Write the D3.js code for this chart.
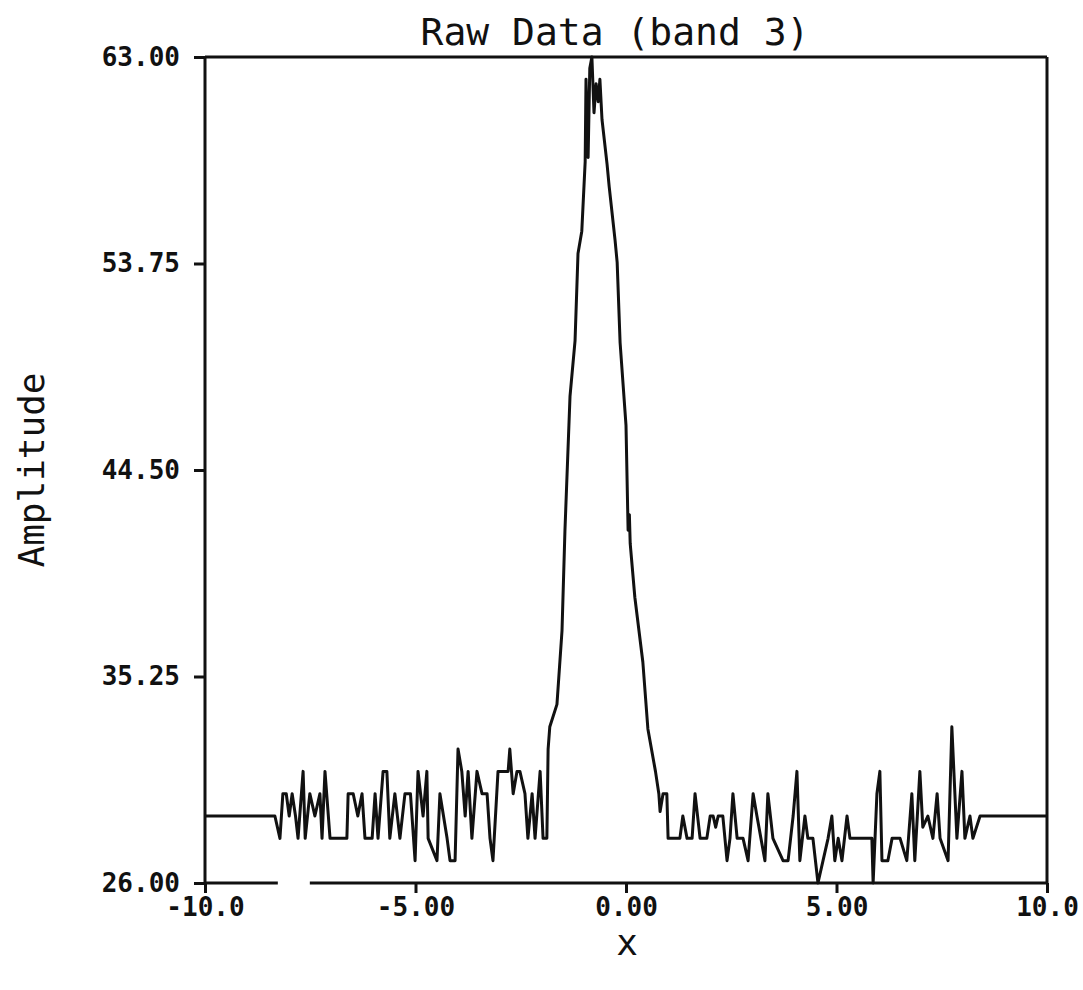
<!DOCTYPE html>
<html>
<head>
<meta charset="utf-8">
<script src="https://cdn.jsdelivr.net/npm/d3@7"></script>
<style>
  body { margin: 0; background: #fff; }
  svg text { fill: #111; }
</style>
</head>
<body>
<div id="chart"></div>
<script>
// sample positions along x
var xs = [
  -10, -8.34, -8.22, -8.15, -8.07, -8.00, -7.93, -7.85, -7.79, -7.67, -7.62, -7.51,
  -7.39, -7.27, -7.22, -7.15, -7.03, -6.63, -6.60, -6.48, -6.37, -6.27, -6.20, -6.03,
  -5.96, -5.89, -5.77, -5.68, -5.61, -5.49, -5.37, -5.25, -5.12, -5.01, -4.94, -4.82,
  -4.73, -4.70, -4.49, -4.42, -4.25, -4.18, -4.06, -3.99, -3.90, -3.82, -3.75, -3.66,
  -3.54, -3.42, -3.30, -3.23, -3.16, -3.04, -2.92, -2.80, -2.76, -2.68, -2.59, -2.52,
  -2.40, -2.33, -2.23, -2.16, -2.04, -1.97, -1.88, -1.85, -1.81, -1.64, -1.52, -1.45,
  -1.33, -1.21, -1.14, -1.05, -0.97, -0.95, -0.90, -0.86, -0.81, -0.76, -0.71, -0.66,
  -0.62, -0.57, -0.45, -0.40, -0.26, -0.21, -0.14, 0.00, 0.05, 0.08, 0.10, 0.21,
  0.40, 0.52, 0.70, 0.78, 0.81, 0.88, 0.97, 1.00, 1.28, 1.35, 1.45, 1.57,
  1.64, 1.76, 1.92, 2.00, 2.07, 2.13, 2.19, 2.30, 2.40, 2.47, 2.54, 2.64,
  2.78, 2.90, 3.02, 3.11, 3.30, 3.37, 3.49, 3.73, 3.85, 3.97, 4.06, 4.13,
  4.25, 4.32, 4.44, 4.56, 4.68, 4.80, 4.89, 4.96, 5.04, 5.13, 5.25, 5.32,
  5.84, 5.87, 5.96, 6.03, 6.08, 6.22, 6.32, 6.51, 6.67, 6.79, 6.86, 6.98,
  7.05, 7.17, 7.29, 7.39, 7.46, 7.65, 7.74, 7.86, 7.98, 8.05, 8.17, 8.24,
  8.41, 10
];
// amplitude at each position
var amplitude = [
  29, 29, 28, 30, 30, 29, 30, 29, 28, 31, 28, 30,
  29, 30, 28, 31, 28, 28, 30, 30, 29, 30, 28, 28,
  30, 28, 31, 31, 28, 30, 28, 30, 30, 27, 31, 29,
  31, 28, 27, 30, 28, 27, 27, 32, 31, 29, 31, 28,
  31, 30, 30, 28, 27, 31, 31, 31, 32, 30, 31, 31,
  30, 28, 30, 28, 31, 28, 28, 32, 33, 34, 37.3, 41.8,
  47.8, 50.3, 54.2, 55.2, 58.3, 62.0, 58.5, 62.5, 63, 60.5, 61.8, 61.0,
  62.0, 60.2, 58.2, 57.2, 54.8, 53.8, 50.2, 46.5, 41.8, 42.5, 41.2, 38.8,
  35.9, 32.9, 31, 30, 29.2, 30, 30, 28, 28, 29, 28, 28,
  30, 28, 28, 29, 29, 28.5, 29, 29, 27, 28, 30, 28,
  28, 27, 30, 29, 27, 30, 28, 27, 27, 29, 31, 27,
  29, 28, 28, 26, 27, 28, 29, 27, 28, 27, 29, 28,
  28, 26, 30, 31, 27, 27, 28, 28, 27, 30, 27, 31,
  28.5, 29, 28, 30, 28, 27, 33, 28, 31, 28, 29, 28,
  29, 29
];
var xTicks = [-10, -5, 0, 5, 10];
var xTickLabels = ["-10.0", "-5.00", "0.00", "5.00", "10.0"];
var yTicks = [26, 35.25, 44.5, 53.75, 63];

var width = 1083, height = 990;
var plotLeft = 205, plotRight = 1047, plotTop = 57, plotBottom = 883;
var ink = "#111";
var mono = "'DejaVu Sans Mono', monospace";

var svg = d3.select("#chart").append("svg")
    .attr("width", width)
    .attr("height", height);

var x = d3.scaleLinear().domain([-10, 10]).range([plotLeft, plotRight]);
var y = d3.scaleLinear().domain([26, 63]).range([plotBottom, plotTop]);

//y axis, ticks pointing out
var yAxis = svg.append("g")
    .attr("transform", "translate(" + plotLeft + ",0)")
    .call(d3.axisLeft(y).tickValues(yTicks).tickSize(11).tickPadding(14)
        .tickFormat(d3.format(".2f")));
yAxis.select(".domain").remove();
yAxis.selectAll("line").attr("stroke", ink).attr("stroke-width", 3);
yAxis.selectAll("text")
    .style("font-family", mono).style("font-size", "26px").style("font-weight", "bold");

//x axis
var xAxis = svg.append("g")
    .attr("transform", "translate(0," + plotBottom + ")")
    .call(d3.axisBottom(x).tickValues(xTicks).tickSize(10).tickPadding(5)
        .tickFormat(function (d, i) { return xTickLabels[i]; }));
xAxis.select(".domain").remove();
xAxis.selectAll("line").attr("stroke", ink).attr("stroke-width", 3);
xAxis.selectAll("text")
    .style("font-family", mono).style("font-size", "26px").style("font-weight", "bold");

//frame (bottom line has a small break in the original plot)
var frame = [
    [[-10, 63], [10, 63]],
    [[-10, 26], [-10, 63]],
    [[10, 26], [10, 63]],
    [[-10, 26], [-8.27, 26]],
    [[-7.51, 26], [10, 26]]
];
svg.append("g").selectAll("line")
    .data(frame)
    .enter().append("line")
    .attr("x1", function (d) { return x(d[0][0]); })
    .attr("y1", function (d) { return y(d[0][1]); })
    .attr("x2", function (d) { return x(d[1][0]); })
    .attr("y2", function (d) { return y(d[1][1]); })
    .attr("stroke", ink)
    .attr("stroke-width", 3);

//data line
var line = d3.line()
    .x(function (d, i) { return x(xs[i]); })
    .y(function (d) { return y(d); });
svg.append("path")
    .datum(amplitude)
    .attr("fill", "none")
    .attr("stroke", ink)
    .attr("stroke-width", 3)
    .attr("stroke-linejoin", "round")
    .attr("d", line);

//titles
svg.append("text")
    .attr("x", 615)
    .attr("y", 45)
    .attr("text-anchor", "middle")
    .style("font-family", mono)
    .style("font-size", "38px")
    .text("Raw Data (band 3)");

svg.append("text")
    .attr("transform", "translate(44,470)rotate(-90)")
    .attr("text-anchor", "middle")
    .style("font-family", mono)
    .style("font-size", "36px")
    .text("Amplitude");

svg.append("text")
    .attr("x", 627)
    .attr("y", 955)
    .attr("text-anchor", "middle")
    .style("font-family", mono)
    .style("font-size", "36px")
    .text("x");
</script>
</body>
</html>
